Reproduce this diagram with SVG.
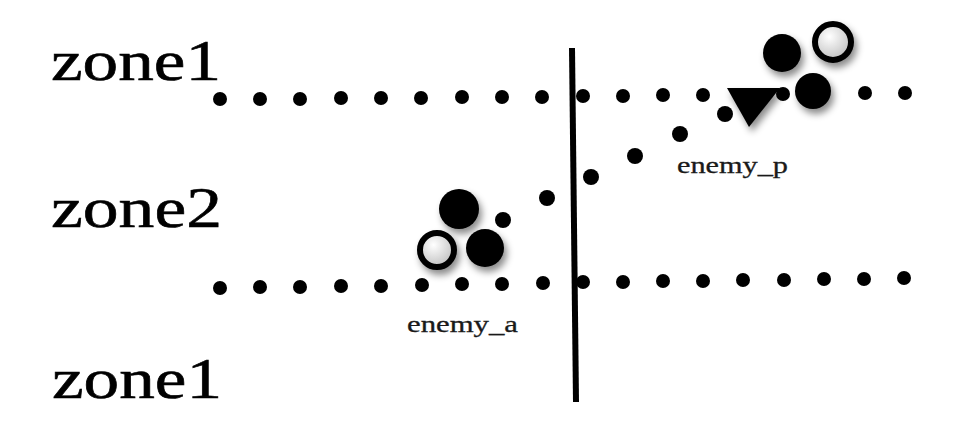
<svg xmlns="http://www.w3.org/2000/svg" xmlns:xlink="http://www.w3.org/1999/xlink" width="962" height="427" viewBox="0 0 962 427">
<style>
.zone{font-family:"Liberation Serif","DejaVu Serif",serif;font-size:58px;fill:#000;stroke:#000;stroke-width:0.6}
.lbl{font-family:"Liberation Serif","DejaVu Serif",serif;font-size:23px;fill:#1a1a1a;stroke:#1a1a1a;stroke-width:0.3}
.dot{fill:#000}
.big{fill:#000;filter:url(#sh)}
.ring{fill:url(#rg);stroke:#000;stroke-width:6;filter:url(#sh)}
</style>
<defs>
<filter id="sh" x="-50%" y="-50%" width="200%" height="200%">
<feDropShadow dx="3" dy="5" stdDeviation="3.5" flood-color="#000" flood-opacity="0.45"/>
</filter>
<radialGradient id="rg" cx="0.4" cy="0.35" r="0.7">
<stop offset="0" stop-color="#ffffff"/>
<stop offset="1" stop-color="#bdbdbd"/>
</radialGradient>
</defs>
<g id="labels">
<text class="zone" x="51" y="80" textLength="170" lengthAdjust="spacingAndGlyphs">zone1</text>
<text class="zone" x="51" y="227" textLength="171" lengthAdjust="spacingAndGlyphs">zone2</text>
<text class="zone" x="52" y="398" textLength="170" lengthAdjust="spacingAndGlyphs">zone1</text>
</g>
<g id="connectors">
<line x1="572" y1="48" x2="576" y2="402" stroke="#000" stroke-width="6"/>
</g>
<g id="row-top">
<circle class="dot" cx="220" cy="99" r="7"/>
<circle class="dot" cx="260" cy="99" r="7"/>
<circle class="dot" cx="300" cy="99" r="7"/>
<circle class="dot" cx="341" cy="98" r="7"/>
<circle class="dot" cx="381" cy="98" r="7"/>
<circle class="dot" cx="421" cy="98" r="7"/>
<circle class="dot" cx="462" cy="97" r="7"/>
<circle class="dot" cx="502" cy="97" r="7"/>
<circle class="dot" cx="542" cy="97" r="7"/>
<circle class="dot" cx="583" cy="96" r="7"/>
<circle class="dot" cx="623" cy="96" r="7"/>
<circle class="dot" cx="663" cy="95" r="7"/>
<circle class="dot" cx="703" cy="95" r="7"/>
<circle class="dot" cx="783" cy="94" r="7"/>
<circle class="dot" cx="865" cy="93" r="7"/>
<circle class="dot" cx="905" cy="93" r="7"/>
</g>
<g id="row-bottom">
<circle class="dot" cx="220" cy="288" r="7"/>
<circle class="dot" cx="260" cy="287" r="7"/>
<circle class="dot" cx="300" cy="287" r="7"/>
<circle class="dot" cx="341" cy="286" r="7"/>
<circle class="dot" cx="381" cy="286" r="7"/>
<circle class="dot" cx="422" cy="285" r="7"/>
<circle class="dot" cx="462" cy="284" r="7"/>
<circle class="dot" cx="502" cy="284" r="7"/>
<circle class="dot" cx="543" cy="283" r="7"/>
<circle class="dot" cx="583" cy="282" r="7"/>
<circle class="dot" cx="623" cy="282" r="7"/>
<circle class="dot" cx="663" cy="281" r="7"/>
<circle class="dot" cx="703" cy="281" r="7"/>
<circle class="dot" cx="743" cy="280" r="7"/>
<circle class="dot" cx="784" cy="280" r="7"/>
<circle class="dot" cx="824" cy="279" r="7"/>
<circle class="dot" cx="864" cy="279" r="7"/>
<circle class="dot" cx="904" cy="278" r="7"/>
</g>
<g id="trajectory">
<circle class="dot" cx="547" cy="198" r="8"/>
<circle class="dot" cx="591" cy="177" r="8"/>
<circle class="dot" cx="635" cy="156" r="8"/>
<circle class="dot" cx="680" cy="134" r="8"/>
<circle class="dot" cx="725" cy="114" r="8"/>
</g>
<g id="enemy_a">
<circle class="big" cx="459" cy="209" r="20"/>
<circle class="dot" cx="503" cy="220" r="8"/>
<circle class="ring" cx="437" cy="250" r="17"/>
<circle class="big" cx="485" cy="248" r="19"/>
<text class="lbl" x="407" y="332" textLength="111" lengthAdjust="spacingAndGlyphs">enemy_a</text>
</g>
<g id="enemy_p">
<circle class="big" cx="782" cy="53" r="19"/>
<circle class="ring" cx="833" cy="42" r="18"/>
<polygon class="big" points="727,88 780,88 749,127"/>
<circle class="big" cx="813" cy="91" r="18"/>
<text class="lbl" x="677" y="173" textLength="111" lengthAdjust="spacingAndGlyphs">enemy_p</text>
</g>
</svg>
